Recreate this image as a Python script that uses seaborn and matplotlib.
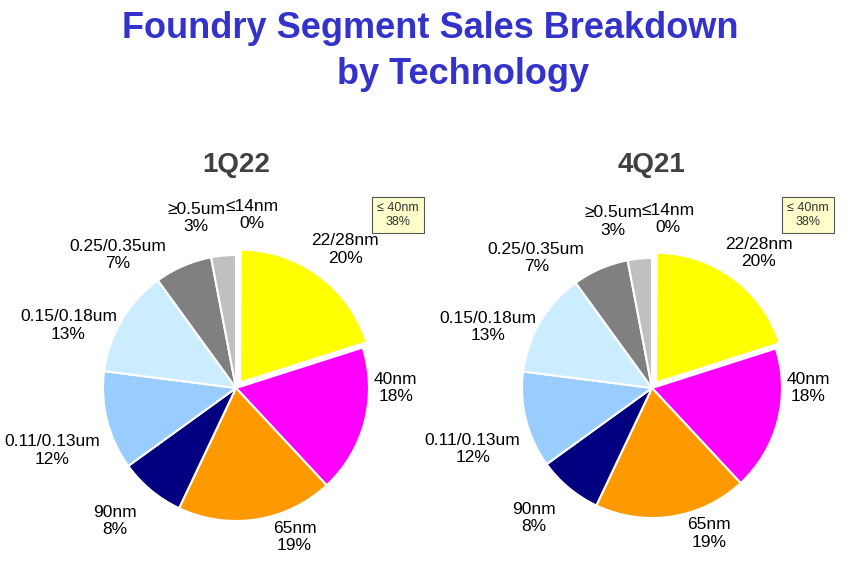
import matplotlib
matplotlib.use("Agg")
import matplotlib.pyplot as plt
import seaborn as sns

sns.set_theme(style="white")
plt.rcParams['font.family'] = ['Liberation Sans', 'DejaVu Sans']

# data
nodes = ['≤14nm', '22/28nm', '40nm', '65nm', '90nm',
         '0.11/0.13um', '0.15/0.18um', '0.25/0.35um', '≥0.5um']
share_1q22 = [0.1, 20, 18, 19, 8, 12, 13, 7, 3]
share_4q21 = [0.1, 20, 18, 19, 8, 12, 13, 7, 3]
pct_1q22 = ['0%', '20%', '18%', '19%', '8%', '12%', '13%', '7%', '3%']
pct_4q21 = ['0%', '20%', '18%', '19%', '8%', '12%', '13%', '7%', '3%']
colors = ['#FFFF00', '#FFFF00', '#FF00FF', '#FF9900', '#000080',
          '#99CCFF', '#CCECFF', '#808080', '#C0C0C0']
explode = [0, 0.05, 0, 0, 0, 0, 0, 0, 0]
# label anchor positions (pie-radius units)
label_pos = [(0.12, 1.30), (0.82, 1.04), (1.20, 0.0), (0.44, -1.12), (-0.91, -1.0),
             (-1.38, -0.47), (-1.26, 0.47), (-0.89, 1.0), (-0.30, 1.28)]

W, H = 865, 569
fig = plt.figure(figsize=(W / 100, H / 100), dpi=100)

title_color = '#3333CC'
fig.text(430 / W, 1 - 28 / H, 'Foundry Segment Sales Breakdown', ha='center', va='center',
         fontsize=26, fontweight='bold', color=title_color)
fig.text(463 / W, 1 - 75 / H, 'by Technology', ha='center', va='center',
         fontsize=26, fontweight='bold', color=title_color)


def draw_pie(cx, cy, r, title, shares, pcts, box_xy):
    half = 1.8
    ax = fig.add_axes([(cx - r * half) / W, (H - cy - r * half) / H,
                       2 * r * half / W, 2 * r * half / H])
    ax.pie(shares, colors=colors, startangle=90, counterclock=False, explode=explode,
           wedgeprops=dict(edgecolor='white', linewidth=1.5))
    ax.set_xlim(-half, half)
    ax.set_ylim(-half, half)
    ax.set_aspect('equal')
    ax.axis('off')
    for name, p, (lx, ly) in zip(nodes, pcts, label_pos):
        ax.text(lx, ly, f'{name}\n{p}', ha='center', va='center', fontsize=12.5,
                color='black', linespacing=1.2)
    fig.text(cx / W, 1 - 165 / H, title, ha='center', va='center', fontsize=20,
             fontweight='bold', color='#404040')
    fig.text(box_xy[0] / W, 1 - box_xy[1] / H, '≤ 40nm\n38%', ha='center', va='center',
             fontsize=9, color='#333333',
             bbox=dict(boxstyle='square,pad=0.4', facecolor='#FFFFCC', edgecolor='#555555',
                       linewidth=0.8))


draw_pie(236, 388, 133, '1Q22', share_1q22, pct_1q22, (398, 215))
draw_pie(652, 388, 130, '4Q21', share_4q21, pct_4q21, (808, 215))

fig.savefig('out.png', dpi=100)
